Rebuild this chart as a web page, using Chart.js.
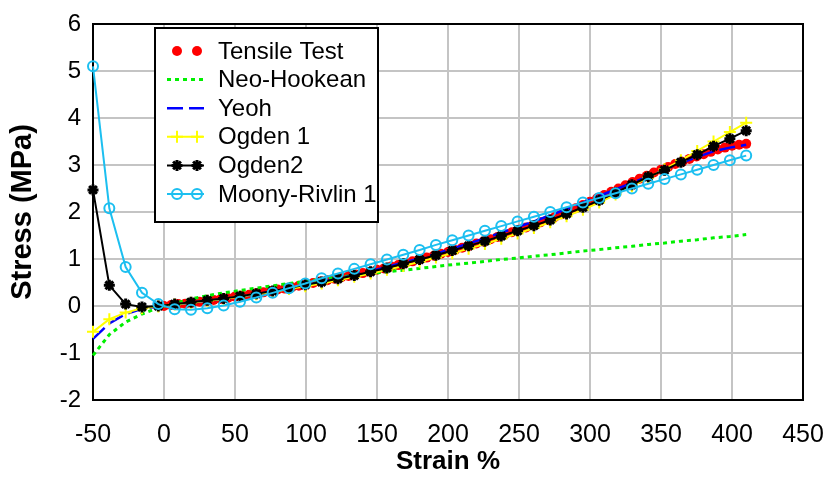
<!DOCTYPE html>
<html lang="en">
<head>
    <meta charset="UTF-8">
    <title>Stress vs Strain - hyperelastic fits</title>
    <script src="https://cdn.jsdelivr.net/npm/chart.js"></script>
    <style>
        body {
            margin: 0;
            padding: 0;
            background: #ffffff;
        }
        #wrap {
            width: 827px;
            height: 477px;
        }
    </style>
</head>
<body>

    <div id="wrap">
        <canvas id="stressChart" width="827" height="477"></canvas>
    </div>

    <script>
        // tensile test (dense measurement points)
        const testStrain = [0, 5, 10, 15, 20, 25, 30, 35, 40, 45, 50, 55, 60, 65, 70, 75, 80, 85, 90, 95,
            100, 105, 110, 115, 120, 125, 130, 135, 140, 145, 150, 155, 160, 165, 170, 175, 180, 185, 190, 195,
            200, 205, 210, 215, 220, 225, 230, 235, 240, 245, 250, 255, 260, 265, 270, 275, 280, 285, 290, 295,
            300, 305, 310, 315, 320, 325, 330, 335, 340, 345, 350, 355, 360, 365, 370, 375, 380, 385, 390, 395,
            400, 405, 410];
        const testStress = [0.00, 0.02, 0.04, 0.05, 0.07, 0.09, 0.11, 0.13, 0.15, 0.17, 0.20, 0.22, 0.24, 0.27, 0.29, 0.32, 0.35, 0.37, 0.40, 0.43,
            0.46, 0.49, 0.52, 0.55, 0.58, 0.61, 0.64, 0.67, 0.70, 0.73, 0.77, 0.80, 0.84, 0.87, 0.91, 0.95, 0.99, 1.03, 1.07, 1.11,
            1.15, 1.19, 1.24, 1.28, 1.33, 1.37, 1.42, 1.47, 1.52, 1.57, 1.62, 1.67, 1.72, 1.78, 1.83, 1.89, 1.95, 2.01, 2.08, 2.15,
            2.22, 2.29, 2.36, 2.43, 2.50, 2.57, 2.64, 2.71, 2.77, 2.84, 2.90, 2.96, 3.02, 3.07, 3.13, 3.18, 3.23, 3.28, 3.33, 3.37,
            3.41, 3.43, 3.45];

        // model curves share one strain grid
        const modelStrain = [-50, -38.5, -27, -15.5, -4, 7.5, 19, 30.5, 42, 53.5, 65, 76.5, 88, 99.5, 111, 122.5, 134, 145.5, 157, 168.5,
            180, 191.5, 203, 214.5, 226, 237.5, 249, 260.5, 272, 283.5, 295, 306.5, 318, 329.5, 341, 352.5, 364, 375.5, 387, 398.5, 410];
        const neoHookean = [-1.05, -0.61, -0.34, -0.17, -0.04, 0.06, 0.15, 0.22, 0.28, 0.33, 0.38, 0.43, 0.48, 0.52, 0.57, 0.61, 0.65, 0.69, 0.73, 0.76,
            0.80, 0.84, 0.88, 0.91, 0.95, 0.99, 1.02, 1.06, 1.09, 1.13, 1.17, 1.20, 1.24, 1.27, 1.31, 1.34, 1.38, 1.41, 1.45, 1.48, 1.52];
        const yeoh = [-0.70, -0.37, -0.17, -0.06, -0.01, 0.03, 0.07, 0.11, 0.15, 0.20, 0.25, 0.31, 0.37, 0.44, 0.51, 0.58, 0.66, 0.74, 0.83, 0.92,
            1.01, 1.11, 1.22, 1.33, 1.44, 1.56, 1.68, 1.80, 1.93, 2.06, 2.20, 2.34, 2.48, 2.62, 2.76, 2.90, 3.04, 3.17, 3.29, 3.37, 3.43];
        const ogden1 = [-0.55, -0.28, -0.14, -0.05, -0.01, 0.03, 0.07, 0.11, 0.15, 0.20, 0.25, 0.30, 0.36, 0.42, 0.48, 0.55, 0.62, 0.69, 0.77, 0.85,
            0.94, 1.03, 1.12, 1.22, 1.32, 1.43, 1.54, 1.66, 1.78, 1.91, 2.05, 2.20, 2.37, 2.55, 2.73, 2.91, 3.10, 3.30, 3.50, 3.70, 3.90];
        const ogden2 = [2.47, 0.44, 0.04, -0.02, 0.00, 0.04, 0.08, 0.12, 0.16, 0.21, 0.26, 0.32, 0.38, 0.45, 0.51, 0.58, 0.65, 0.73, 0.81, 0.90,
            0.99, 1.08, 1.18, 1.28, 1.38, 1.49, 1.60, 1.71, 1.83, 1.96, 2.10, 2.25, 2.41, 2.58, 2.75, 2.89, 3.06, 3.22, 3.40, 3.56, 3.73];
        const mooneyRivlin = [5.10, 2.08, 0.83, 0.28, 0.04, -0.07, -0.08, -0.05, 0.01, 0.09, 0.18, 0.28, 0.38, 0.48, 0.59, 0.69, 0.79, 0.89, 0.99, 1.09,
            1.19, 1.30, 1.40, 1.50, 1.60, 1.70, 1.80, 1.90, 2.00, 2.10, 2.20, 2.30, 2.40, 2.50, 2.60, 2.70, 2.80, 2.90, 3.00, 3.10, 3.20];

        const xTicks = [-50, 0, 50, 100, 150, 200, 250, 300, 350, 400, 450];
        const yTicks = [-2, -1, 0, 1, 2, 3, 4, 5, 6];

        function pairs(xs, ys) {
            return xs.map((x, i) => ({ x: x, y: ys[i] }));
        }

        const fontFamily = '"Liberation Sans", Arial, sans-serif';

        // little marker painter, used for the legend samples
        function paintMarker(ctx, style, x, y, r, stroke, fill, width) {
            ctx.save();
            ctx.strokeStyle = stroke;
            ctx.fillStyle = fill;
            ctx.lineWidth = width;
            ctx.beginPath();
            if (style === 'circle') {
                ctx.arc(x, y, r, 0, Math.PI * 2);
                ctx.fill();
                if (width > 0) ctx.stroke();
            } else if (style === 'cross') {
                ctx.moveTo(x - r, y); ctx.lineTo(x + r, y);
                ctx.moveTo(x, y - r); ctx.lineTo(x, y + r);
                ctx.stroke();
            } else if (style === 'star') {
                const d = r * 0.707;
                ctx.moveTo(x - r, y); ctx.lineTo(x + r, y);
                ctx.moveTo(x, y - r); ctx.lineTo(x, y + r);
                ctx.moveTo(x - d, y - d); ctx.lineTo(x + d, y + d);
                ctx.moveTo(x - d, y + d); ctx.lineTo(x + d, y - d);
                ctx.stroke();
            }
            ctx.restore();
        }

        const frameAndLegend = {
            id: 'frameAndLegend',
            beforeDatasetsDraw(chart) {
                const a = chart.chartArea;
                const ctx = chart.ctx;
                ctx.save();
                ctx.strokeStyle = '#000';
                ctx.lineWidth = 2;
                ctx.strokeRect(a.left, a.top, a.right - a.left, a.bottom - a.top);
                ctx.restore();
            },
            afterDraw(chart) {
                const ctx = chart.ctx;
                ctx.save();
                ctx.fillStyle = '#fff';
                ctx.fillRect(155, 28, 223, 194);
                ctx.strokeStyle = '#000';
                ctx.lineWidth = 2;
                ctx.strokeRect(155, 28, 223, 194);

                chart.data.datasets.forEach((ds, i) => {
                    const y = 51 + i * 28.6;
                    if (ds.showLine !== false) {
                        ctx.save();
                        ctx.strokeStyle = ds.borderColor;
                        ctx.lineWidth = ds.borderWidth;
                        ctx.setLineDash(ds.borderDash || []);
                        ctx.beginPath();
                        ctx.moveTo(167, y);
                        ctx.lineTo(204, y);
                        ctx.stroke();
                        ctx.restore();
                    }
                    if (ds.pointRadius > 0) {
                        [177, 197].forEach(px => {
                            paintMarker(ctx, ds.pointStyle, px, y, ds.pointRadius,
                                ds.pointBorderColor, ds.pointBackgroundColor, ds.pointBorderWidth);
                        });
                    }
                    ctx.fillStyle = '#000';
                    ctx.font = '24px ' + fontFamily;
                    ctx.textBaseline = 'middle';
                    ctx.textAlign = 'left';
                    ctx.fillText(ds.label, 218, y + 1);
                });
                ctx.restore();
            }
        };

        const ctx = document.getElementById('stressChart').getContext('2d');
        const chart = new Chart(ctx, {
            type: 'scatter',
            data: {
                datasets: [
                    {
                        label: 'Tensile Test', data: pairs(testStrain, testStress), showLine: false,
                        pointStyle: 'circle', pointRadius: 5, pointBackgroundColor: '#ff0000',
                        pointBorderColor: '#ff0000', pointBorderWidth: 0, borderColor: '#ff0000', order: 6
                    },
                    {
                        label: 'Neo-Hookean', data: pairs(modelStrain, neoHookean), showLine: true,
                        borderColor: '#00f000', borderWidth: 3, borderDash: [4, 4], pointRadius: 0, order: 5
                    },
                    {
                        label: 'Yeoh', data: pairs(modelStrain, yeoh), showLine: true,
                        borderColor: '#0000ff', borderWidth: 2.5, borderDash: [16, 6], pointRadius: 0, order: 4
                    },
                    {
                        label: 'Ogden 1', data: pairs(modelStrain, ogden1), showLine: true,
                        borderColor: '#ffff00', borderWidth: 2, pointStyle: 'cross', pointRadius: 6,
                        pointBorderColor: '#ffff00', pointBackgroundColor: '#ffff00', pointBorderWidth: 2, order: 3
                    },
                    {
                        label: 'Ogden2', data: pairs(modelStrain, ogden2), showLine: true,
                        borderColor: '#000000', borderWidth: 2, pointStyle: 'star', pointRadius: 5.5,
                        pointBorderColor: '#000000', pointBackgroundColor: '#000000', pointBorderWidth: 3, order: 2
                    },
                    {
                        label: 'Moony-Rivlin 1', data: pairs(modelStrain, mooneyRivlin), showLine: true,
                        borderColor: '#1cbff0', borderWidth: 2, pointStyle: 'circle', pointRadius: 5,
                        pointBorderColor: '#1cbff0', pointBackgroundColor: 'rgba(255,255,255,0)', pointBorderWidth: 2, order: 1
                    }
                ]
            },
            options: {
                responsive: false,
                animation: false,
                devicePixelRatio: 1,
                layout: { padding: { left: 0, right: 24, top: 21, bottom: 0 } },
                plugins: {
                    legend: { display: false },
                    tooltip: { enabled: false }
                },
                elements: { line: { tension: 0 } },
                datasets: { scatter: { clip: false } },
                scales: {
                    x: {
                        type: 'linear',
                        min: -50, max: 450,
                        afterBuildTicks: (s) => { s.ticks = xTicks.map(v => ({ value: v })); },
                        afterFit: (s) => { s.height = 77; s.paddingRight = 0; s.paddingLeft = 0; },
                        grid: { color: '#c4c4c4', lineWidth: 2, drawTicks: false },
                        border: { color: '#000', width: 2 },
                        ticks: { color: '#000', padding: 23, font: { family: fontFamily, size: 25, lineHeight: 1 } },
                        title: {
                            display: true, text: 'Strain %', color: '#000',
                            font: { family: fontFamily, size: 26, weight: 'bold' },
                            padding: { top: 0, bottom: 0 }
                        }
                    },
                    y: {
                        type: 'linear',
                        min: -2, max: 6,
                        afterBuildTicks: (s) => { s.ticks = yTicks.map(v => ({ value: v })); },
                        afterFit: (s) => { s.width = 93; },
                        grid: { color: '#c4c4c4', lineWidth: 2, drawTicks: false },
                        border: { color: '#000', width: 2 },
                        ticks: { color: '#000', padding: 12, font: { family: fontFamily, size: 24, lineHeight: 1 } },
                        title: {
                            display: true, text: 'Stress (MPa)', color: '#000',
                            font: { family: fontFamily, size: 29, weight: 'bold' },
                            padding: { top: 6, bottom: 0 }
                        }
                    }
                }
            },
            plugins: [frameAndLegend]
        });
    </script>

</body>
</html>
